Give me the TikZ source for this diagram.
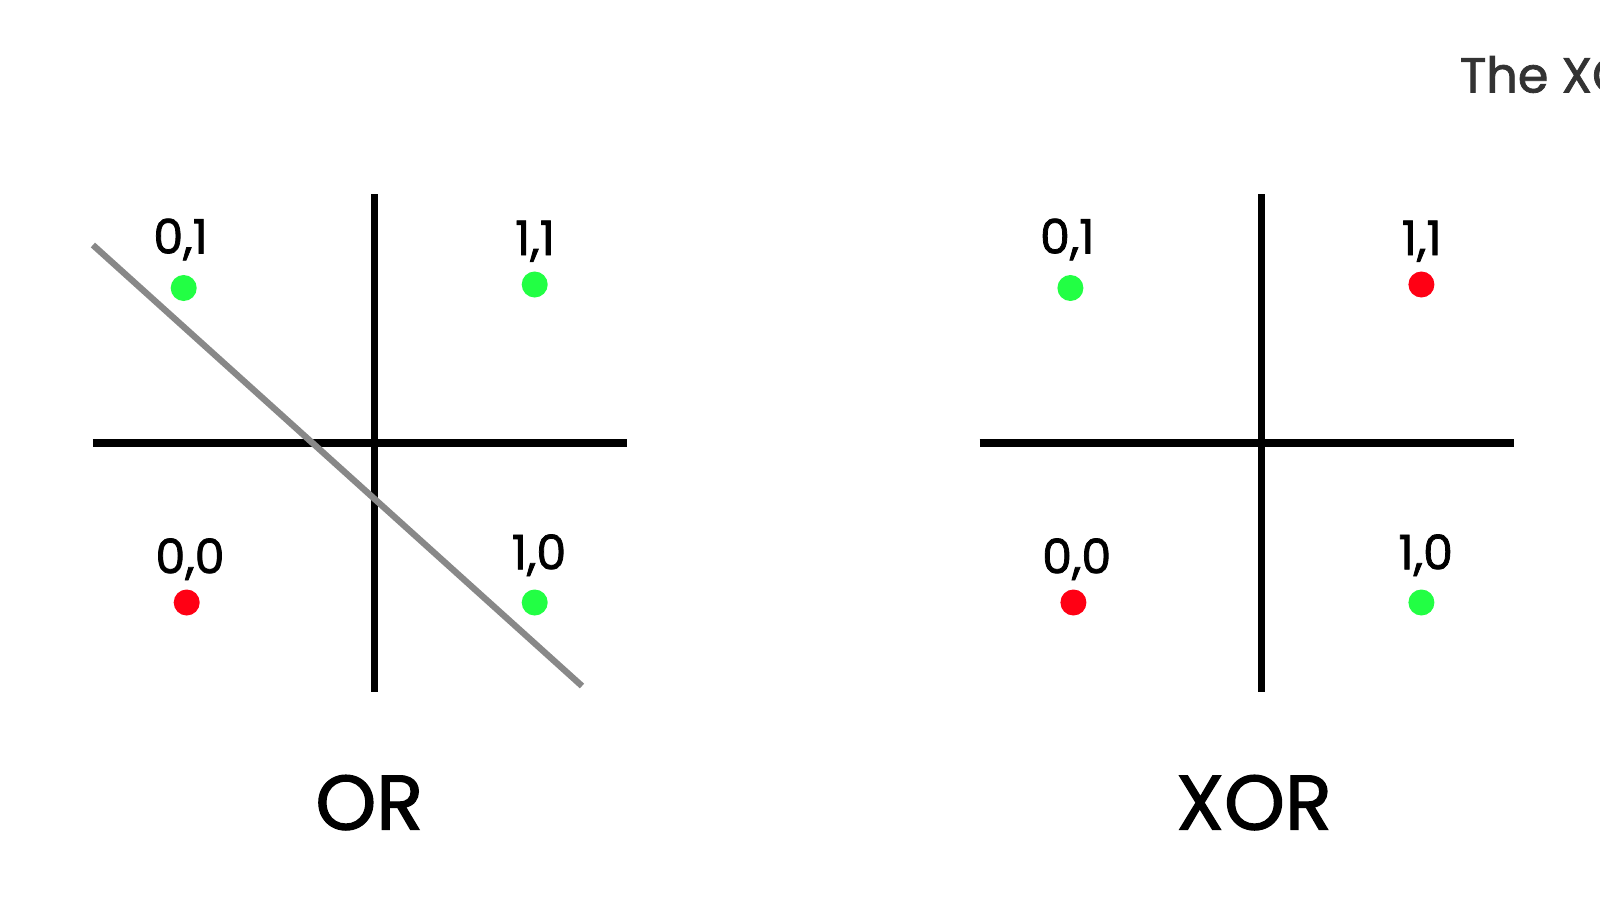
\documentclass[tikz,border=0pt]{standalone}
\usepackage{fontspec}
\setmainfont{Poppins}[FakeBold=1.6]
\definecolor{dotgreen}{HTML}{22FF44}
\definecolor{dotred}{HTML}{FF0014}
\definecolor{sepgray}{HTML}{888888}
\definecolor{titlegray}{HTML}{333333}
\begin{document}
\begin{tikzpicture}[x=0.01cm,y=-0.01cm,
  axis/.style={line width=2pt,black},
  sepline/.style={line width=1.8pt,sepgray},
  gdot/.style={circle,fill=dotgreen,inner sep=0pt,minimum size=0.26cm},
  rdot/.style={circle,fill=dotred,inner sep=0pt,minimum size=0.26cm},
  ptlabel/.style={anchor=base,inner sep=0pt,font=\fontsize{13.5}{15}\selectfont},
  biglabel/.style={anchor=base,inner sep=0pt,font=\fontsize{22}{26}\selectfont}]
\useasboundingbox (0,0) rectangle (1600,900);
% title (cut at right edge, as in the reference)
\node[anchor=base west,inner sep=0pt,text=titlegray,font=\fontsize{14}{16}\selectfont] (title) at (1459,92.5) {The XO};
% ---------- OR ----------
\coordinate (orV1) at (374.5,194);
\coordinate (orV2) at (374.5,692);
\coordinate (orH1) at (92.9,443);
\coordinate (orH2) at (626.5,443);
\draw[axis] (orV1) -- (orV2);
\draw[axis] (orH1) -- (orH2);
\coordinate (sepA) at (92.9,245);
\coordinate (sepB) at (582,686);
\draw[sepline] (sepA) -- (sepB);
\node[gdot] (or01) at (183.7,288) {};
\node[gdot] (or11) at (534.7,284.5) {};
\node[rdot] (or00) at (186.7,602.5) {};
\node[gdot] (or10) at (534.7,602.5) {};
\node[ptlabel] (lor01) at (180.6,253.5) {0,1};
\node[ptlabel] (lor11) at (535,255) {1,1};
\node[ptlabel] (lor00) at (190,573.3) {0,0};
\node[ptlabel] (lor10) at (539,569.3) {1,0};
\node[biglabel] (ortitle) at (369.4,829.6) {OR};
% ---------- XOR ----------
\coordinate (xV1) at (1261.2,194);
\coordinate (xV2) at (1261.2,692);
\coordinate (xH1) at (979.6,443);
\coordinate (xH2) at (1514.3,443);
\draw[axis] (xV1) -- (xV2);
\draw[axis] (xH1) -- (xH2);
\node[gdot] (x01) at (1070.4,288) {};
\node[rdot] (x11) at (1421.4,284.5) {};
\node[rdot] (x00) at (1073.4,602.5) {};
\node[gdot] (x10) at (1421.4,602.5) {};
\node[ptlabel] (lx01) at (1067.3,253.5) {0,1};
\node[ptlabel] (lx11) at (1421.7,255) {1,1};
\node[ptlabel] (lx00) at (1076.7,573.3) {0,0};
\node[ptlabel] (lx10) at (1425.7,569.3) {1,0};
\node[biglabel] (xortitle) at (1254,829.6) {XOR};
\end{tikzpicture}
\end{document}
